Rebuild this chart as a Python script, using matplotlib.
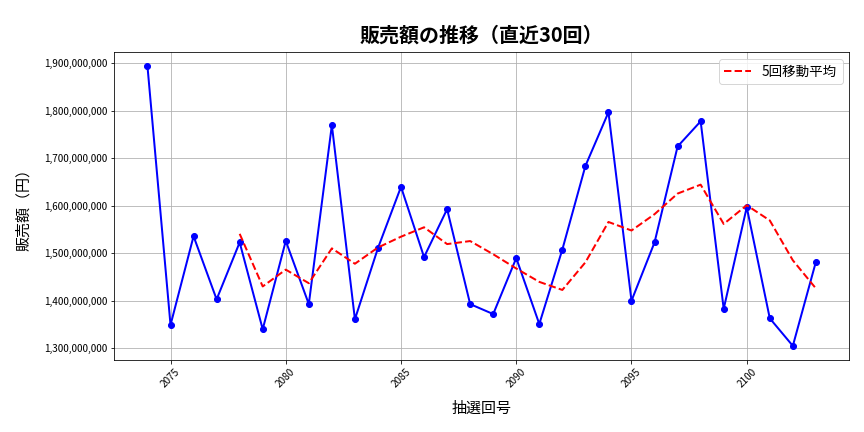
import matplotlib
matplotlib.use('Agg')
import matplotlib.pyplot as plt
import matplotlib.ticker as ticker
import pandas as pd

plt.rcParams['font.family'] = ['Noto Sans CJK JP', 'DejaVu Sans']

# draw numbers (last 30 draws)
draws = list(range(2074, 2104))
# sales per draw in yen
sales = [1894e6, 1349e6, 1536e6, 1403e6, 1523e6, 1340e6, 1526e6, 1393e6,
         1770e6, 1361e6, 1511e6, 1640e6, 1492e6, 1593e6, 1393e6, 1372e6,
         1490e6, 1351e6, 1508e6, 1684e6, 1797e6, 1400e6, 1523e6, 1725e6,
         1778e6, 1383e6, 1597e6, 1363e6, 1305e6, 1482e6]

TITLE = '販売額の推移（直近30回）'
X_TITLE = '抽選回号'
Y_TITLE = '販売額（円）'
MA_LABEL = '5回移動平均'

df = pd.DataFrame({'draw': draws, 'sales': sales})
df['ma5'] = df['sales'].rolling(5).mean()

fig, ax = plt.subplots(figsize=(12, 6), dpi=72)
fig.subplots_adjust(left=0.132, right=0.983, top=0.879, bottom=0.167)

ax.plot(df['draw'], df['sales'], color='blue', marker='o', markersize=6, linewidth=2)
ax.plot(df['draw'], df['ma5'], color='red', linestyle='--', linewidth=2, label=MA_LABEL)

ax.set_title(TITLE, fontsize=20, pad=11, fontweight='bold')
ax.set_xlabel(X_TITLE, fontsize=15, labelpad=12)
ax.set_ylabel(Y_TITLE, fontsize=15, labelpad=13)
ax.yaxis.set_major_formatter(ticker.FuncFormatter(lambda v, p: '{:,.0f}'.format(v)))
ax.tick_params(axis='both', labelsize=10)
plt.setp(ax.get_xticklabels(), rotation=45)
ax.grid(True, color='#b0b0b0', linewidth=0.8)
ax.legend(loc='upper right', fontsize=13.5)

fig.savefig('out.png')
